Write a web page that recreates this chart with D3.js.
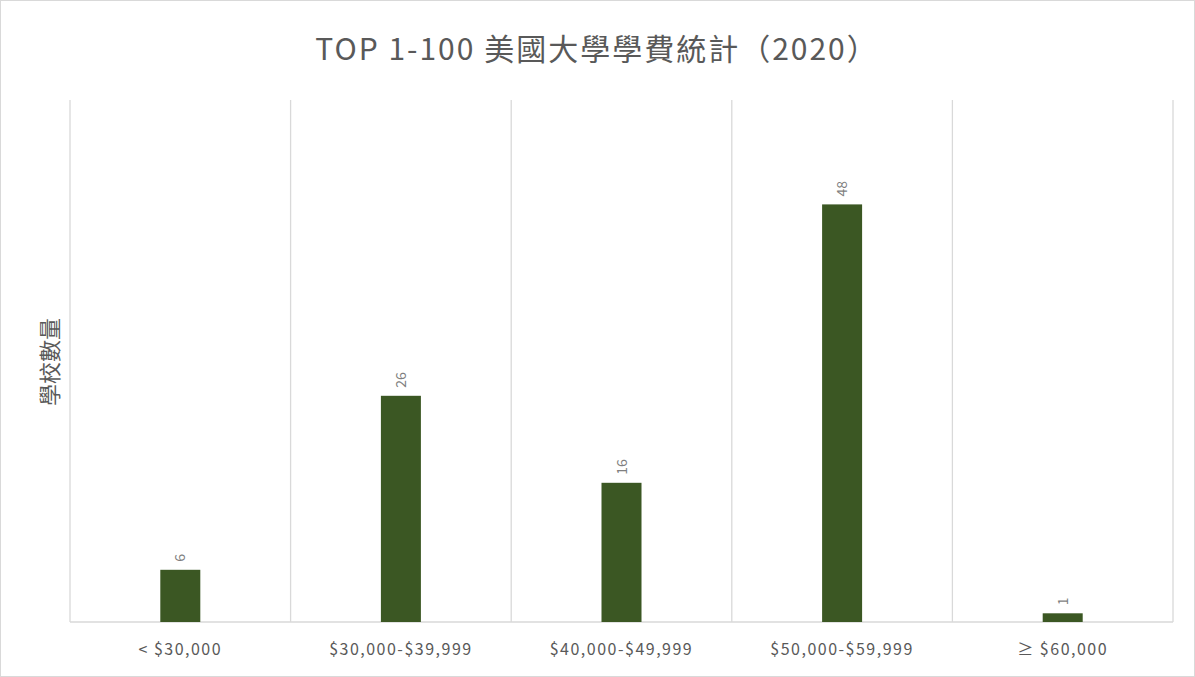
<!DOCTYPE html>
<html><head><meta charset="utf-8">
<script src="https://cdn.jsdelivr.net/npm/d3@7"></script>
<style>body{margin:0;background:#fff}svg{display:block}</style>
</head><body><svg id="c" width="1195" height="677"></svg>
<script>
const categories = ["< $30,000","$30,000-$39,999","$40,000-$49,999","$50,000-$59,999","≥ $60,000"];
const values = [6,26,16,48,1];
const titleText = "TOP 1-100 美國大學學費統計（2020）";
const yLabel = "學校數量";

const svg = d3.select("#c");
const font = "'Noto Sans CJK TC','Noto Sans',sans-serif";
svg.append("rect").attr("x",0.5).attr("y",0.5).attr("width",1194).attr("height",676)
  .attr("fill","#fff").attr("stroke","#d9d9d9");
const L=70,R=1173,T=100,B=622;
const x = d3.scaleBand().domain(categories).range([L,R]);
const y = d3.scaleLinear().domain([0,60]).range([B,T]);
const bounds = categories.map(c=>x(c)).concat([R]);
svg.selectAll("line.g").data(bounds).join("line")
  .attr("x1",d=>d).attr("x2",d=>d).attr("y1",T).attr("y2",B)
  .attr("stroke","#d9d9d9").attr("stroke-width",1.3);
svg.append("line").attr("x1",L).attr("x2",R).attr("y1",B).attr("y2",B).attr("stroke","#d9d9d9").attr("stroke-width",1.3);
const bw=40;
svg.selectAll("rect.b").data(values).join("rect")
  .attr("x",(d,i)=>x(categories[i])+x.bandwidth()/2-bw/2)
  .attr("y",d=>y(d)).attr("width",bw).attr("height",d=>B-y(d)).attr("fill","#3b5723");
svg.selectAll("text.v").data(values).join("text")
  .attr("transform",(d,i)=>`translate(${x(categories[i])+x.bandwidth()/2+5},${y(d)-8}) rotate(-90)`)
  .attr("font-family",font).attr("font-size",14).attr("fill","#7f7f7f").text(d=>d);
svg.selectAll("text.c").data(categories).join("text")
  .attr("x",d=>x(d)+x.bandwidth()/2).attr("y",655).attr("text-anchor","middle")
  .attr("font-family",font).attr("font-size",16).attr("letter-spacing","1.5px").attr("fill","#595959").text(d=>d);
svg.append("text").attr("x",597).attr("y",60).attr("text-anchor","middle")
  .attr("font-family",font).attr("font-size",30).attr("letter-spacing","2px").attr("fill","#595959").text(titleText);
svg.append("text").attr("transform","translate(58,362) rotate(-90)").attr("text-anchor","middle")
  .attr("font-family",font).attr("font-size",22).attr("fill","#595959").text(yLabel);
</script></body></html>
